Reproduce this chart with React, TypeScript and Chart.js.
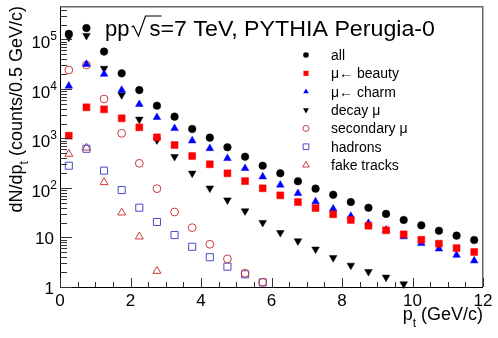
import React, { useEffect, useRef } from "react";
import { Chart, registerables } from "chart.js";

Chart.register(...registerables);

// ---- data ----
const PT = [0.25, 0.75, 1.25, 1.75, 2.25, 2.75, 3.25, 3.75, 4.25, 4.75, 5.25, 5.75,
  6.25, 6.75, 7.25, 7.75, 8.25, 8.75, 9.25, 9.75, 10.25, 10.75, 11.25, 11.75];

const ALL = [1.3e5, 1.7e5, 5.7e4, 2.07e4, 9.5e3, 4.6e3, 2.76e3, 1.56e3, 1.04e3, 665, 429, 282,
  198, 137, 97, 73, 52, 40, 30, 22.6, 17.6, 13.7, 10.9, 8.9];
const BEAUTY = [1140, 4270, 3890, 2560, 1680, 1057, 739, 443, 301, 198, 138, 98.6,
  71, 52, 39.4, 29.4, 22.6, 17.3, 14, 11.6, 9.0, 7.5, 6.1, 5.1];
const CHARM = [1.15e4, 3.16e4, 2.0e4, 9.5e3, 4.9e3, 2680, 1600, 903, 630, 398, 250, 169,
  115, 78, 53, 38, 27, 19.4, 14.2, 10.4, 7.6, 5.9, 4.4, 3.4];
const DECAY = [1.1e5, 1.2e5, 2.6e4, 7.6e3, 2440, 933, 429, 198, 99, 57, 34.3, 20,
  12.5, 8.5, 5.8, 3.9, 2.74, 2.04, 1.57, 1.15];
const SECONDARY = [2.42e4, 3.05e4, 6280, 1270, 315, 97, 32.7, 15.8, 7.3, 3.7, 1.9, 1.25];
const HADRONS = [282, 620, 224, 91, 40, 20.6, 11.2, 6.5, 4.0, 2.57, 1.8, 1.24];
const FAKE = [486, 650, 130, 31.7, 10.4, 2.1];

const LEGEND_LABELS = ["all", "\u03bc\u2190 beauty", "\u03bc\u2190 charm", "decay \u03bc",
  "secondary \u03bc", "hadrons", "fake tracks"];

const X_MIN = 0;
const X_MAX = 12;
const X_LABELS = [0, 2, 4, 6, 8, 10, 12];
const Y_MIN = 1;
const Y_MAX = 4.75e5;
const Y_DECADES = [0, 1, 2, 3, 4, 5];

const TITLE_PRE = "pp";
const TITLE_POST = "=7 TeV, PYTHIA Perugia-0";
const X_TITLE = ["p", "t", " (GeV/c)"];
const Y_TITLE = ["dN/dp", "t", " (counts/0.5 GeV/c)"];

const FONT = '"Liberation Sans", Arial, Helvetica, sans-serif';

type Style = {
  shape: "circle" | "rect" | "tri" | "tridown";
  color: string;
  filled: boolean;
  r: number;
  lr: number;
};

const STYLES: Style[] = [
  { shape: "circle", color: "#000000", filled: true, r: 3.8, lr: 2.8 },
  { shape: "rect", color: "#ff0000", filled: true, r: 4.9, lr: 3.6 },
  { shape: "tri", color: "#0000ff", filled: true, r: 4.4, lr: 3.2 },
  { shape: "tridown", color: "#000000", filled: true, r: 4.4, lr: 3.4 },
  { shape: "circle", color: "#cc3a3a", filled: false, r: 3.9, lr: 3.0 },
  { shape: "rect", color: "#4a4ac8", filled: false, r: 5.0, lr: 4.0 },
  { shape: "tri", color: "#cc3a3a", filled: false, r: 4.6, lr: 3.8 },
];

const SERIES = [ALL, BEAUTY, CHARM, DECAY, SECONDARY, HADRONS, FAKE];

function drawMarker(ctx: CanvasRenderingContext2D, s: Style, x: number, y: number, r: number) {
  ctx.beginPath();
  if (s.shape === "circle") {
    ctx.arc(x, y, r, 0, Math.PI * 2);
  } else if (s.shape === "rect") {
    const h = r * Math.SQRT1_2;
    ctx.rect(x - h, y - h, 2 * h, 2 * h);
  } else {
    const dir = s.shape === "tri" ? 1 : -1;
    for (let k = 0; k < 3; k++) {
      const a = (k * 2 * Math.PI) / 3;
      const px = x + Math.sin(a) * r;
      const py = y - dir * Math.cos(a) * r;
      if (k === 0) ctx.moveTo(px, py);
      else ctx.lineTo(px, py);
    }
    ctx.closePath();
  }
  if (s.filled) {
    ctx.fillStyle = s.color;
    ctx.fill();
  } else {
    ctx.strokeStyle = s.color;
    ctx.lineWidth = 1;
    ctx.stroke();
  }
}

const rootPlugin = {
  id: "rootStyle",
  afterDatasetsDraw(chart: any) {
    const { ctx, chartArea: ca, scales } = chart;
    const xs = scales.x;
    const ys = scales.y;
    ctx.save();

    // frame
    ctx.strokeStyle = "#000";
    ctx.lineWidth = 1;
    ctx.beginPath();
    ctx.moveTo(ca.left + 0.5, ca.top);
    ctx.lineTo(ca.left + 0.5, ca.bottom + 0.5);
    ctx.lineTo(ca.right, ca.bottom + 0.5);
    ctx.stroke();
    ctx.strokeStyle = "#666";
    ctx.lineWidth = 1.5;
    ctx.beginPath();
    ctx.moveTo(ca.left, ca.top + 0.75);
    ctx.lineTo(ca.right - 0.25, ca.top + 0.75);
    ctx.lineTo(ca.right - 0.25, ca.bottom);
    ctx.stroke();

    // y ticks
    ctx.strokeStyle = "#333";
    ctx.lineWidth = 1;
    ctx.beginPath();
    for (const d of Y_DECADES) {
      for (let k = 1; k <= 9; k++) {
        const v = k * Math.pow(10, d);
        if (v > Y_MAX) break;
        const p = Math.round(ys.getPixelForValue(v)) + 0.5;
        const len = k === 1 ? 12 : 7;
        ctx.moveTo(ca.left, p);
        ctx.lineTo(ca.left + len, p);
      }
    }
    // x ticks
    for (let v = X_MIN; v <= X_MAX + 1e-9; v += 0.5) {
      const p = Math.round(xs.getPixelForValue(v)) + 0.5;
      const major = Math.abs(v / 2 - Math.round(v / 2)) < 1e-6;
      const len = major ? 9 : 5;
      ctx.moveTo(p, ca.bottom);
      ctx.lineTo(p, ca.bottom - len);
    }
    ctx.stroke();

    // y tick labels
    ctx.fillStyle = "#000";
    ctx.textBaseline = "alphabetic";
    for (const d of Y_DECADES) {
      const p = ys.getPixelForValue(Math.pow(10, d));
      if (d < 2) {
        ctx.font = `17px ${FONT}`;
        ctx.textAlign = "right";
        const txt = d === 0 ? "1" : "10";
        ctx.fillText(txt, 54, p + 7);
      } else {
        ctx.font = `12px ${FONT}`;
        ctx.textAlign = "right";
        const e = String(d);
        const ew = ctx.measureText(e).width;
        ctx.fillText(e, 57, p + 1);
        ctx.font = `17px ${FONT}`;
        ctx.fillText("10", 57 - ew, p + 9);
      }
    }

    // x tick labels
    ctx.font = `17px ${FONT}`;
    ctx.textAlign = "center";
    for (const v of X_LABELS) {
      ctx.fillText(String(v), xs.getPixelForValue(v), 306);
    }

    // x title
    {
      ctx.textAlign = "left";
      ctx.font = `18px ${FONT}`;
      const w0 = ctx.measureText(X_TITLE[0]).width;
      const w2 = ctx.measureText(X_TITLE[2]).width;
      ctx.font = `12px ${FONT}`;
      const w1 = ctx.measureText(X_TITLE[1]).width;
      const total = w0 + w1 + w2;
      let x = ca.right - total;
      const base = 320;
      ctx.font = `18px ${FONT}`;
      ctx.fillText(X_TITLE[0], x, base);
      x += w0;
      ctx.font = `12px ${FONT}`;
      ctx.fillText(X_TITLE[1], x, base + 7);
      x += w1;
      ctx.font = `18px ${FONT}`;
      ctx.fillText(X_TITLE[2], x, base);
    }

    // y title (rotated)
    {
      ctx.save();
      ctx.translate(22, ca.top);
      ctx.rotate(-Math.PI / 2);
      ctx.textAlign = "left";
      ctx.font = `18px ${FONT}`;
      const w0 = ctx.measureText(Y_TITLE[0]).width;
      const w2 = ctx.measureText(Y_TITLE[2]).width;
      ctx.font = `12px ${FONT}`;
      const w1 = ctx.measureText(Y_TITLE[1]).width;
      let x = -(w0 + w1 + w2);
      ctx.font = `18px ${FONT}`;
      ctx.fillText(Y_TITLE[0], x, 0);
      x += w0;
      ctx.font = `12px ${FONT}`;
      ctx.fillText(Y_TITLE[1], x, 6);
      x += w1;
      ctx.font = `18px ${FONT}`;
      ctx.fillText(Y_TITLE[2], x, 0);
      ctx.restore();
    }

    // plot title inside frame
    {
      const base = 36;
      ctx.textAlign = "left";
      ctx.font = `22px ${FONT}`;
      let x = 105;
      ctx.fillText(TITLE_PRE, x, base);
      x += ctx.measureText(TITLE_PRE).width + 2;
      const sw = ctx.measureText("s").width;
      // sqrt sign
      ctx.strokeStyle = "#000";
      ctx.lineWidth = 1.2;
      ctx.beginPath();
      ctx.moveTo(x, base - 9);
      ctx.lineTo(x + 2, base - 10);
      ctx.lineTo(x + 7, base);
      ctx.lineTo(x + 14, base - 20);
      ctx.lineTo(x + 19 + sw, base - 20);
      ctx.stroke();
      x += 18;
      ctx.fillText("s", x, base);
      x += sw;
      // fit remaining text to end at the reference's right edge
      const rw = ctx.measureText(TITLE_POST).width;
      const target = 435 - x;
      ctx.save();
      ctx.translate(x, base);
      ctx.scale(target / rw, 1);
      ctx.fillText(TITLE_POST, 0, 0);
      ctx.restore();
    }

    // legend
    {
      const mx = 306;
      const tx = 331;
      const y0 = 55;
      const dy = 18.35;
      ctx.font = `14px ${FONT}`;
      ctx.textAlign = "left";
      ctx.textBaseline = "middle";
      STYLES.forEach((s, i) => {
        const yy = y0 + i * dy;
        drawMarker(ctx, s, mx, yy, s.lr);
        ctx.fillStyle = "#000";
        ctx.fillText(LEGEND_LABELS[i], tx, yy + 1);
      });
    }

    ctx.restore();
  },
};

export default function App() {
  const ref = useRef<HTMLCanvasElement>(null);
  useEffect(() => {
    const canvas = ref.current;
    if (!canvas) return;
    const datasets = SERIES.map((vals, i) => {
      const s = STYLES[i];
      return {
        label: LEGEND_LABELS[i],
        data: vals.map((v, j) => ({ x: PT[j], y: v })),
        showLine: false,
        pointStyle: s.shape === "circle" ? "circle" : s.shape === "rect" ? "rect" : "triangle",
        rotation: s.shape === "tridown" ? 180 : 0,
        pointRadius: s.r,
        pointHoverRadius: s.r,
        pointBackgroundColor: s.filled ? s.color : "rgba(0,0,0,0)",
        pointBorderColor: s.color,
        pointBorderWidth: s.filled ? 0.5 : 1,
        clip: false as any,
        order: i,
      };
    });
    const chart = new Chart(canvas, {
      type: "scatter",
      data: { datasets: datasets as any },
      options: {
        animation: false,
        responsive: false,
        devicePixelRatio: 1,
        events: [],
        layout: { padding: { left: 60, right: 15, top: 6, bottom: 51 } },
        scales: {
          x: { type: "linear", min: X_MIN, max: X_MAX, display: false },
          y: { type: "logarithmic", min: Y_MIN, max: Y_MAX, display: false },
        },
        plugins: { legend: { display: false }, tooltip: { enabled: false } },
      },
      plugins: [rootPlugin as any],
    });
    return () => chart.destroy();
  }, []);
  return (
    <div style={{ position: "fixed", left: 0, top: 0, width: 498, height: 338, background: "#fff" }}>
      <canvas ref={ref} width={498} height={338} style={{ display: "block" }} />
    </div>
  );
}
